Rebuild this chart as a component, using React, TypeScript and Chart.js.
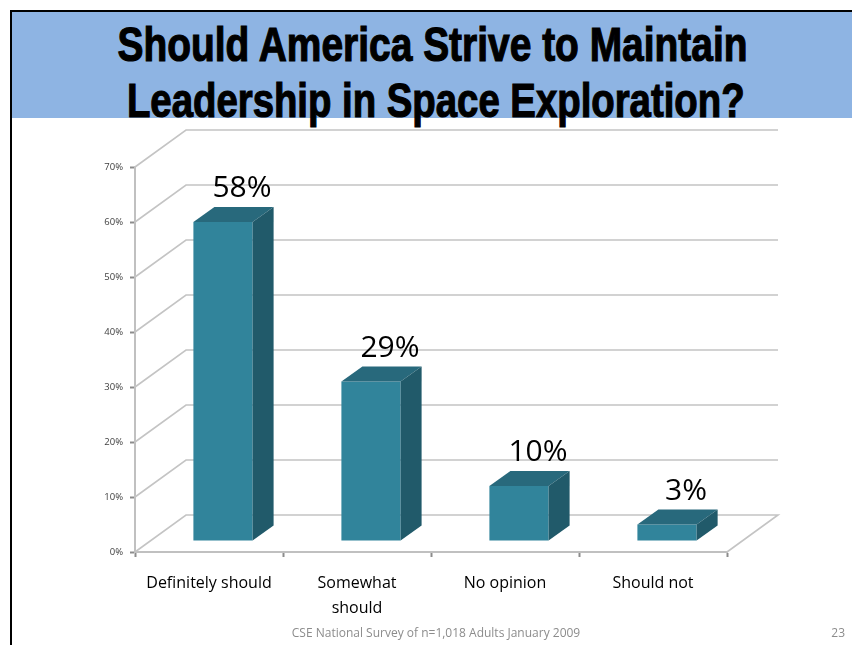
import React, { useEffect, useLayoutEffect, useRef, useState } from 'react';
import { Chart, registerables } from 'chart.js';

Chart.register(...registerables);

// ---- data ----
const categories: (string | string[])[] = ['Definitely should', ['Somewhat', 'should'], 'No opinion', 'Should not'];
const values: number[] = [58, 29, 10, 3];
const yTicks: number[] = [0, 10, 20, 30, 40, 50, 60, 70];
const titleLines: string[] = ['Should America Strive to Maintain', 'Leadership in Space Exploration?'];
const footerText = 'CSE National Survey of n=1,018 Adults January 2009';
const pageNumber = '23';

// ---- styles ----
const FRONT = '#31849b';
const TOP = '#28697c';
const SIDE = '#215a6a';
const GRID = '#c4c4c4';
const WALL_DX = 51;
const WALL_DY = -37;
const SHIFT_X = 14;
const SHIFT_Y = -11;
const BAR_DX = 21;
const BAR_DY = -15;

const threeD = {
  id: 'threeD',
  beforeDatasetsDraw(chart: any) {
    const { ctx, chartArea: a, scales } = chart;
    const y = scales.y;
    ctx.save();
    ctx.strokeStyle = GRID;
    ctx.lineWidth = 1.6;
    yTicks.forEach((v) => {
      const py = y.getPixelForValue(v);
      ctx.beginPath();
      ctx.moveTo(a.left, py);
      ctx.lineTo(a.left + WALL_DX, py + WALL_DY);
      ctx.lineTo(a.right + WALL_DX, py + WALL_DY);
      if (v === 0) ctx.lineTo(a.right, py);
      ctx.stroke();
    });
    ctx.restore();
    ctx.save();
    ctx.translate(SHIFT_X, SHIFT_Y);
  },
  afterDatasetsDraw(chart: any) {
    const ctx = chart.ctx;
    ctx.restore();
    const meta = chart.getDatasetMeta(0);
    ctx.save();
    meta.data.forEach((bar: any, i: number) => {
      const { x, y, base, width } = bar.getProps(['x', 'y', 'base', 'width'], true);
      const xl = x - width / 2 + SHIFT_X;
      const xr = x + width / 2 + SHIFT_X;
      const yt = y + SHIFT_Y;
      const yb = base + SHIFT_Y;
      ctx.fillStyle = TOP;
      ctx.beginPath();
      ctx.moveTo(xl, yt);
      ctx.lineTo(xl + BAR_DX, yt + BAR_DY);
      ctx.lineTo(xr + BAR_DX, yt + BAR_DY);
      ctx.lineTo(xr, yt);
      ctx.closePath();
      ctx.fill();
      ctx.fillStyle = SIDE;
      ctx.beginPath();
      ctx.moveTo(xr, yt);
      ctx.lineTo(xr + BAR_DX, yt + BAR_DY);
      ctx.lineTo(xr + BAR_DX, yb + BAR_DY);
      ctx.lineTo(xr, yb);
      ctx.closePath();
      ctx.fill();
      ctx.fillStyle = '#000';
      ctx.font = '30px "Open Sans", sans-serif';
      ctx.textAlign = 'center';
      ctx.textBaseline = 'alphabetic';
      ctx.fillText(values[i] + '%', x + SHIFT_X + 19, yt - 25);
    });
    ctx.restore();
  },
};

function TitleLine({ text, centerX, top, width }: { text: string; centerX: number; top: number; width: number }) {
  const ref = useRef<HTMLSpanElement>(null);
  const [k, setK] = useState(1);
  useLayoutEffect(() => {
    if (ref.current && ref.current.offsetWidth > 0) setK(width / ref.current.offsetWidth);
  }, [text, width]);
  return (
    <div
      style={{
        position: 'absolute',
        left: centerX - 600,
        width: 1200,
        top,
        textAlign: 'center',
        fontSize: 48,
        lineHeight: '48px',
        fontFamily: '"Liberation Sans", Arial, sans-serif',
        fontWeight: 700,
        whiteSpace: 'nowrap',
        color: '#000',
        WebkitTextStroke: '1.2px #000',
      }}
    >
      <span ref={ref} style={{ display: 'inline-block', transform: `scaleX(${k})`, transformOrigin: '50% 50%' }}>
        {text}
      </span>
    </div>
  );
}

export default function App() {
  const canvasRef = useRef<HTMLCanvasElement>(null);

  useEffect(() => {
    const chart = new Chart(canvasRef.current as HTMLCanvasElement, {
      type: 'bar',
      data: {
        labels: categories as any,
        datasets: [
          {
            data: values,
            backgroundColor: FRONT,
            borderWidth: 0,
            barPercentage: 0.4,
            categoryPercentage: 1,
          },
        ],
      },
      options: {
        responsive: false,
        animation: false,
        devicePixelRatio: 1,
        layout: { padding: { left: 0, right: 125, top: 167, bottom: 0 } },
        plugins: {
          legend: { display: false },
          tooltip: { enabled: false },
          title: { display: false },
        },
        scales: {
          x: {
            afterFit: (s: any) => {
              s.height = 93;
            },
            grid: { display: true, drawOnChartArea: false, tickLength: 5, tickColor: '#8c8c8c', tickWidth: 2 },
            border: { display: true, color: '#c0c0c0', width: 2 },
            ticks: {
              color: '#000',
              font: { size: 16, family: '"Open Sans", sans-serif', lineHeight: 1.55 },
              padding: 14,
              maxRotation: 0,
              autoSkip: false,
            },
          },
          y: {
            min: 0,
            max: 70,
            afterFit: (s: any) => {
              s.width = 135;
            },
            grid: { display: true, drawOnChartArea: false, tickLength: 5, tickColor: '#8c8c8c', tickWidth: 2 },
            border: { display: true, color: '#c0c0c0', width: 2 },
            ticks: {
              stepSize: 10,
              callback: (v: any) => v + '%',
              color: '#404040',
              font: { size: 9.5, family: '"Open Sans", sans-serif' },
              padding: 7,
            },
          },
        },
      },
      plugins: [threeD],
    });
    return () => chart.destroy();
  }, []);

  return (
    <div
      style={{
        position: 'absolute',
        left: 0,
        top: 0,
        width: 852,
        height: 645,
        overflow: 'hidden',
        background: '#fff',
      }}
    >
      <div
        style={{
          position: 'absolute',
          left: 10,
          top: 10,
          width: 842,
          height: 635,
          borderTop: '2px solid #000',
          borderLeft: '2px solid #000',
          boxSizing: 'border-box',
        }}
      />
      <div style={{ position: 'absolute', left: 12, top: 12, width: 840, height: 106, background: '#8eb4e3' }} />
      <TitleLine text={titleLines[0]} centerX={433} top={21} width={630} />
      <TitleLine text={titleLines[1]} centerX={436} top={77} width={618} />
      <canvas
        ref={canvasRef}
        width={852}
        height={645}
        style={{ position: 'absolute', left: 0, top: 0, width: 852, height: 645, display: 'block' }}
      />
      <div
        style={{
          position: 'absolute',
          left: 236,
          width: 400,
          top: 626,
          textAlign: 'center',
          fontFamily: '"Open Sans", sans-serif',
          fontSize: 12,
          lineHeight: '14px',
          color: '#8c8c8c',
          whiteSpace: 'nowrap',
        }}
      >
        {footerText}
      </div>
      <div
        style={{
          position: 'absolute',
          left: 745,
          width: 100,
          top: 626,
          textAlign: 'right',
          fontFamily: '"Open Sans", sans-serif',
          fontSize: 12,
          lineHeight: '14px',
          color: '#8c8c8c',
        }}
      >
        {pageNumber}
      </div>
    </div>
  );
}
